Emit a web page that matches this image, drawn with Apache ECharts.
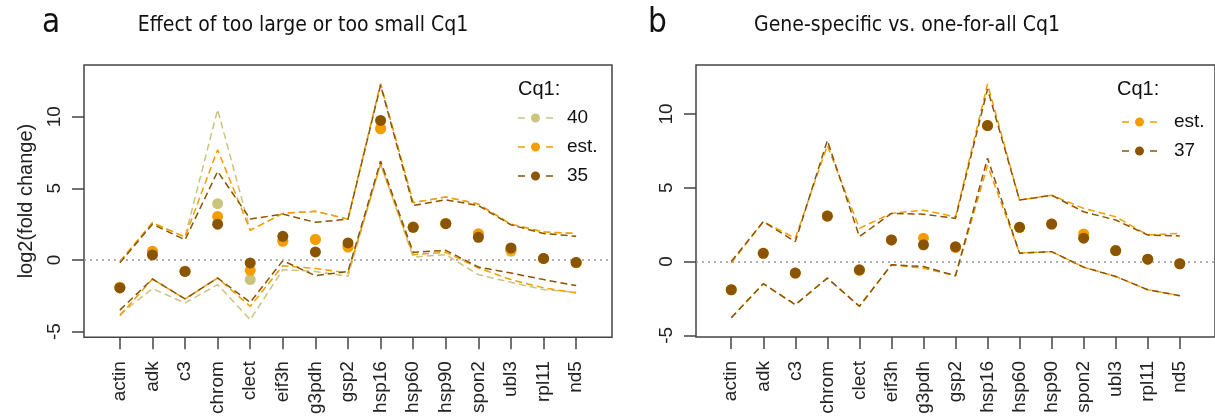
<!DOCTYPE html>
<html>
<head>
<meta charset="utf-8">
<script src="https://cdn.jsdelivr.net/npm/echarts@6/dist/echarts.min.js"></script>
<style>
  html, body { margin: 0; padding: 0; background: #fff; }
  #main { width: 1215px; height: 417px; }
</style>
</head>
<body>
<div id="main"></div>
<script>
// genes on the x axis
var genes = ['actin', 'adk', 'c3', 'chrom', 'clect', 'eif3h', 'g3pdh', 'gsp2', 'hsp16', 'hsp60', 'hsp90', 'spon2', 'ubl3', 'rpl11', 'nd5'];
var yTicks = [-5, 0, 5, 10];

// panel a: log2(fold change) for Cq1 = 40, est., 35
var a40    = [-1.9, 0.6, -0.8, 3.93, -1.37, 1.35, 1.45, 0.95, 9.2, 2.3, 2.55, 1.75, 0.6, 0.1, -0.2];
var aEst   = [-1.9, 0.6, -0.78, 3.04, -0.72, 1.3, 1.42, 0.9, 9.16, 2.3, 2.55, 1.83, 0.7, 0.1, -0.18];
var a35    = [-1.95, 0.35, -0.8, 2.5, -0.21, 1.65, 0.56, 1.19, 9.74, 2.28, 2.53, 1.58, 0.84, 0.11, -0.17];
var a40Up  = [-0.15, 2.6, 1.6, 10.5, 2.07, 3.25, 3.4, 2.85, 12.3, 4.0, 4.4, 3.9, 2.5, 1.95, 1.85];
var aEstUp = [-0.1, 2.6, 1.6, 7.7, 2.07, 3.25, 3.4, 2.85, 12.3, 4.0, 4.4, 3.9, 2.5, 1.95, 1.85];
var a35Up  = [-0.2, 2.5, 1.4, 6.18, 2.86, 3.2, 2.63, 2.85, 12.2, 3.8, 4.2, 3.8, 2.45, 1.85, 1.65];
var a40Lo  = [-3.8, -2.0, -3.0, -1.72, -4.17, -0.68, -0.8, -1.14, 6.7, 0.2, 0.37, -1.03, -1.56, -2.07, -2.26];
var aEstLo = [-3.9, -1.33, -2.72, -1.26, -3.24, -0.4, -0.6, -0.9, 6.7, 0.37, 0.53, -0.56, -1.37, -1.95, -2.3];
var a35Lo  = [-3.5, -1.33, -2.72, -1.26, -2.96, -0.05, -1.1, -0.8, 6.9, 0.53, 0.67, -0.49, -0.91, -1.37, -1.79];

// panel b: gene-specific (est.) vs one-for-all (37)
var bEst   = [-1.91, 0.56, -0.78, 3.08, -0.6, 1.46, 1.58, 0.95, 9.21, 2.32, 2.54, 1.87, 0.74, 0.16, -0.15];
var b37    = [-1.91, 0.56, -0.78, 3.08, -0.56, 1.46, 1.13, 1.01, 9.21, 2.32, 2.54, 1.58, 0.74, 0.16, -0.15];
var bEstUp = [-0.1, 2.7, 1.58, 7.86, 2.25, 3.26, 3.48, 3.03, 12.02, 4.16, 4.49, 3.6, 3.03, 1.8, 1.91];
var b37Up  = [0, 2.7, 1.35, 8.2, 1.69, 3.26, 3.21, 2.92, 11.68, 4.16, 4.49, 3.37, 2.81, 1.8, 1.73];
var bEstLo = [-3.81, -1.5, -2.92, -1.12, -3.03, -0.22, -0.45, -0.96, 6.5, 0.57, 0.67, -0.38, -1.01, -1.91, -2.31];
var b37Lo  = [-3.81, -1.5, -2.92, -1.12, -3.03, -0.22, -0.34, -0.96, 7.0, 0.57, 0.67, -0.38, -1.01, -1.91, -2.31];

var cKhaki = '#cbc47f';
var cOrange = '#f59d00';
var cBrown = '#8a5400';

var axisFont = 'Liberation Sans';
var titleFont = '"DejaVu Sans Condensed", "DejaVu Sans"';

// dash - dot - dash legend icon
var legendIcon = 'path://M0,4.3h7v1.4h-7z M28,4.3h7v1.4h-7z M13,5a4.5,4.5 0 1,0 9,0a4.5,4.5 0 1,0 -9,0z';

function pairs(vals) {
  return vals.map(function (v, i) { return [i + 1, v]; });
}

function xAxisFor(gridIndex) {
  return {
    type: 'value', gridIndex: gridIndex, min: -0.1, max: 16.1,
    splitLine: { show: false },
    axisLine: { show: false, onZero: false },
    axisTick: { show: true, length: 12, customValues: genes.map(function (g, i) { return i + 1; }),
      lineStyle: { color: '#444', width: 1.5 } },
    axisLabel: {
      customValues: genes.map(function (g, i) { return i + 1; }),
      rotate: 90, margin: 24, color: '#222', fontSize: 19, fontFamily: axisFont,
      formatter: function (v) { return genes[Math.round(v) - 1]; }
    }
  };
}

function yAxisFor(gridIndex, min, max, name) {
  return {
    type: 'value', gridIndex: gridIndex, min: min, max: max,
    name: name, nameLocation: 'middle', nameGap: 48,
    nameTextStyle: { fontSize: 20, fontFamily: axisFont, color: '#222' },
    splitLine: { show: false },
    axisLine: { show: false, onZero: false },
    axisTick: { show: true, length: 12, customValues: yTicks, lineStyle: { color: '#444', width: 1.5 } },
    axisLabel: { customValues: yTicks, rotate: 90, margin: 20, color: '#222', fontSize: 19, fontFamily: axisFont }
  };
}

function band(name, vals, color, idx) {
  return {
    name: name, type: 'line', xAxisIndex: idx, yAxisIndex: idx,
    data: pairs(vals), symbol: 'none', silent: true, z: 2,
    lineStyle: { color: color, width: 1.5, type: [7, 4] }
  };
}

function dots(name, vals, color, idx, z) {
  return {
    name: name, type: 'scatter', xAxisIndex: idx, yAxisIndex: idx,
    data: pairs(vals), symbol: 'circle', symbolSize: 11, z: z,
    itemStyle: { color: color, opacity: 1 }
  };
}

// dotted zero line
function zeroLine(idx) {
  return {
    type: 'line', xAxisIndex: idx, yAxisIndex: idx, data: [], silent: true,
    markLine: {
      silent: true, symbol: 'none', label: { show: false },
      lineStyle: { color: '#999', width: 1.5, type: [2, 4] },
      data: [{ yAxis: 0 }]
    }
  };
}

var chart = echarts.init(document.getElementById('main'));
var option = {
  backgroundColor: '#fff',
  animation: false,
  title: [
    { text: 'a', left: 37, top: 2, textStyle: { fontSize: 33, fontWeight: 'normal', fontFamily: titleFont, color: '#111' } },
    { text: 'Effect of too large or too small Cq1', left: 298, top: 10, textAlign: 'center',
      textStyle: { fontSize: 21, fontWeight: 'normal', fontFamily: titleFont, color: '#111' } },
    { text: 'b', left: 643, top: 2, textStyle: { fontSize: 33, fontWeight: 'normal', fontFamily: titleFont, color: '#111' } },
    { text: 'Gene-specific vs. one-for-all Cq1', left: 902, top: 10, textAlign: 'center',
      textStyle: { fontSize: 21, fontWeight: 'normal', fontFamily: titleFont, color: '#111' } },
    { text: 'Cq1:', left: 513, top: 74, textStyle: { fontSize: 20, fontWeight: 'normal', fontFamily: axisFont, color: '#111' } },
    { text: 'Cq1:', left: 1112, top: 74, textStyle: { fontSize: 20, fontWeight: 'normal', fontFamily: axisFont, color: '#111' } }
  ],
  legend: [
    {
      data: ['40', 'est.', '35'], left: 513, top: 103, orient: 'vertical', align: 'left',
      icon: legendIcon, itemWidth: 35, itemHeight: 9, itemGap: 9,
      textStyle: { fontSize: 19, fontFamily: axisFont, color: '#111', lineHeight: 20, padding: [0, 0, 0, 9] },
      selectedMode: false
    },
    {
      data: ['est.', '37'], left: 1117, top: 107, orient: 'vertical', align: 'left',
      icon: legendIcon, itemWidth: 35, itemHeight: 9, itemGap: 9,
      textStyle: { fontSize: 19, fontFamily: axisFont, color: '#111', lineHeight: 20, padding: [0, 0, 0, 12] },
      selectedMode: false
    }
  ],
  grid: [
    { left: 84, top: 65, width: 528, height: 273, show: true, borderColor: '#444', borderWidth: 1.5, backgroundColor: 'transparent' },
    { left: 696, top: 65, width: 525, height: 272, show: true, borderColor: '#444', borderWidth: 1.5, backgroundColor: 'transparent' }
  ],
  xAxis: [xAxisFor(0), xAxisFor(1)],
  yAxis: [yAxisFor(0, -5.39, 13.61, 'log2(fold change)'), yAxisFor(1, -5.11, 13.31, '')],
  series: [
    zeroLine(0),
    band('40 up', a40Up, cKhaki, 0), band('40 lo', a40Lo, cKhaki, 0),
    band('est. up', aEstUp, cOrange, 0), band('est. lo', aEstLo, cOrange, 0),
    band('35 up', a35Up, cBrown, 0), band('35 lo', a35Lo, cBrown, 0),
    dots('40', a40, cKhaki, 0, 5), dots('est.', aEst, cOrange, 0, 6), dots('35', a35, cBrown, 0, 7),

    zeroLine(1),
    band('est. up b', bEstUp, cOrange, 1), band('est. lo b', bEstLo, cOrange, 1),
    band('37 up', b37Up, cBrown, 1), band('37 lo', b37Lo, cBrown, 1),
    dots('est.', bEst, cOrange, 1, 6), dots('37', b37, cBrown, 1, 7)
  ]
};
chart.setOption(option);
</script>
</body>
</html>
